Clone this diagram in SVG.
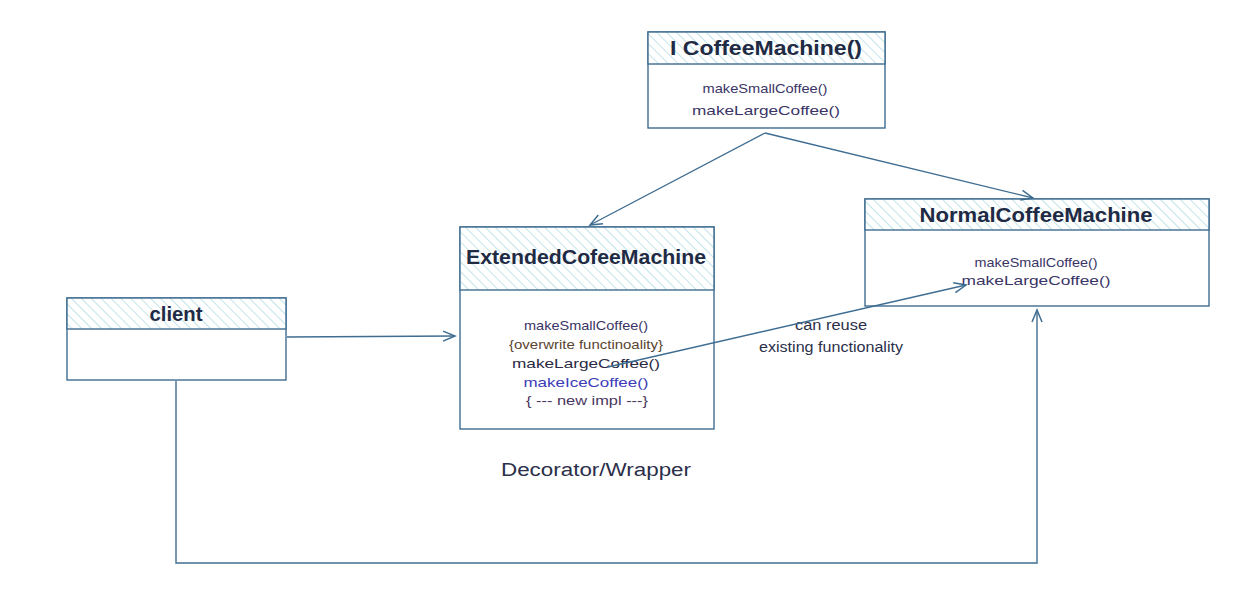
<svg xmlns="http://www.w3.org/2000/svg" width="1251" height="604" viewBox="0 0 1251 604">
<defs>
<pattern id="hach" patternUnits="userSpaceOnUse" width="7" height="7" patternTransform="rotate(-45)">
<rect width="7" height="7" fill="#ffffff"/>
<line x1="0" y1="0" x2="0" y2="7" stroke="#a9d9e0" stroke-width="1.4"/>
</pattern>
<marker id="arr" markerWidth="16" markerHeight="12" refX="13" refY="6" orient="auto" markerUnits="userSpaceOnUse">
<path d="M1,1 L13,6 L1,11" fill="none" stroke="#3f6d91" stroke-width="1.5"/>
</marker>
</defs>
<style>
.box{fill:#ffffff;stroke:#3f6d91;stroke-width:1.4}
.head{fill:url(#hach);stroke:#3f6d91;stroke-width:1.4}
.con{fill:none;stroke:#3f6d91;stroke-width:1.4}
.title{font-family:"Liberation Sans","DejaVu Sans",sans-serif;font-size:20px;font-weight:bold;fill:#1f2a44;text-anchor:middle}
.m{font-family:"Liberation Sans","DejaVu Sans",sans-serif;font-size:13px;fill:#3a3566;text-anchor:middle}
.lbl{font-family:"Liberation Sans","DejaVu Sans",sans-serif;font-size:14px;fill:#2b2f4a;text-anchor:middle}
</style>
<rect width="1251" height="604" fill="#ffffff"/>

<g id="icoffeemachine">
<rect class="box" x="648" y="32" width="237" height="96"/>
<rect class="head" x="648" y="32" width="237" height="32"/>
<text class="title" x="766" y="55" textLength="192" lengthAdjust="spacingAndGlyphs">I CoffeeMachine()</text>
<text class="m" x="765" y="93" textLength="125" lengthAdjust="spacingAndGlyphs">makeSmallCoffee()</text>
<text class="m" x="766" y="115" textLength="148" lengthAdjust="spacingAndGlyphs">makeLargeCoffee()</text>
</g>

<g id="extendedcofeemachine">
<rect class="box" x="460" y="227" width="254" height="202"/>
<rect class="head" x="460" y="227" width="254" height="63"/>
<text class="title" x="586" y="264" textLength="240" lengthAdjust="spacingAndGlyphs">ExtendedCofeeMachine</text>
<text class="m" x="586" y="330" textLength="124" lengthAdjust="spacingAndGlyphs">makeSmallCoffee()</text>
<text class="m" x="586" y="349" textLength="154" lengthAdjust="spacingAndGlyphs" style="fill:#5a4530">{overwrite functinoality}</text>
<text class="m" x="586" y="368" textLength="148" lengthAdjust="spacingAndGlyphs" style="fill:#2a2a44">makeLargeCoffee()</text>
<text class="m" x="586" y="387" textLength="125" lengthAdjust="spacingAndGlyphs" style="fill:#3b3bb8">makeIceCoffee()</text>
<text class="m" x="587" y="405" textLength="122" lengthAdjust="spacingAndGlyphs" style="fill:#4a3560">{ --- new impl ---}</text>
</g>

<g id="normalcoffeemachine">
<rect class="box" x="865" y="199" width="344" height="107"/>
<rect class="head" x="865" y="199" width="344" height="31"/>
<text class="title" x="1036" y="222" textLength="233" lengthAdjust="spacingAndGlyphs">NormalCoffeeMachine</text>
<text class="m" x="1036" y="267" textLength="123" lengthAdjust="spacingAndGlyphs">makeSmallCoffee()</text>
<text class="m" x="1036" y="285" textLength="149" lengthAdjust="spacingAndGlyphs">makeLargeCoffee()</text>
</g>

<g id="client">
<rect class="box" x="67" y="298" width="219" height="82"/>
<rect class="head" x="67" y="298" width="219" height="31"/>
<text class="title" x="176" y="321" textLength="53" lengthAdjust="spacingAndGlyphs">client</text>
</g>

<g id="labels">
<text class="lbl" x="831" y="330" textLength="72" lengthAdjust="spacingAndGlyphs">can reuse</text>
<text class="lbl" x="831" y="352" textLength="144" lengthAdjust="spacingAndGlyphs">existing functionality</text>
<text class="lbl" x="596" y="476" style="font-size:18px" textLength="190" lengthAdjust="spacingAndGlyphs">Decorator/Wrapper</text>
</g>

<g id="connectors">
<path class="con" d="M765,133 L590,225" marker-end="url(#arr)"/>
<path class="con" d="M765,133 L1033,198" marker-end="url(#arr)"/>
<path class="con" d="M287,337 L455,336" marker-end="url(#arr)"/>
<path class="con" d="M608,367 L966,285" marker-end="url(#arr)"/>
<path class="con" d="M176,381 L176,563 L1037,563 L1037,310" marker-end="url(#arr)"/>
</g>
</svg>
